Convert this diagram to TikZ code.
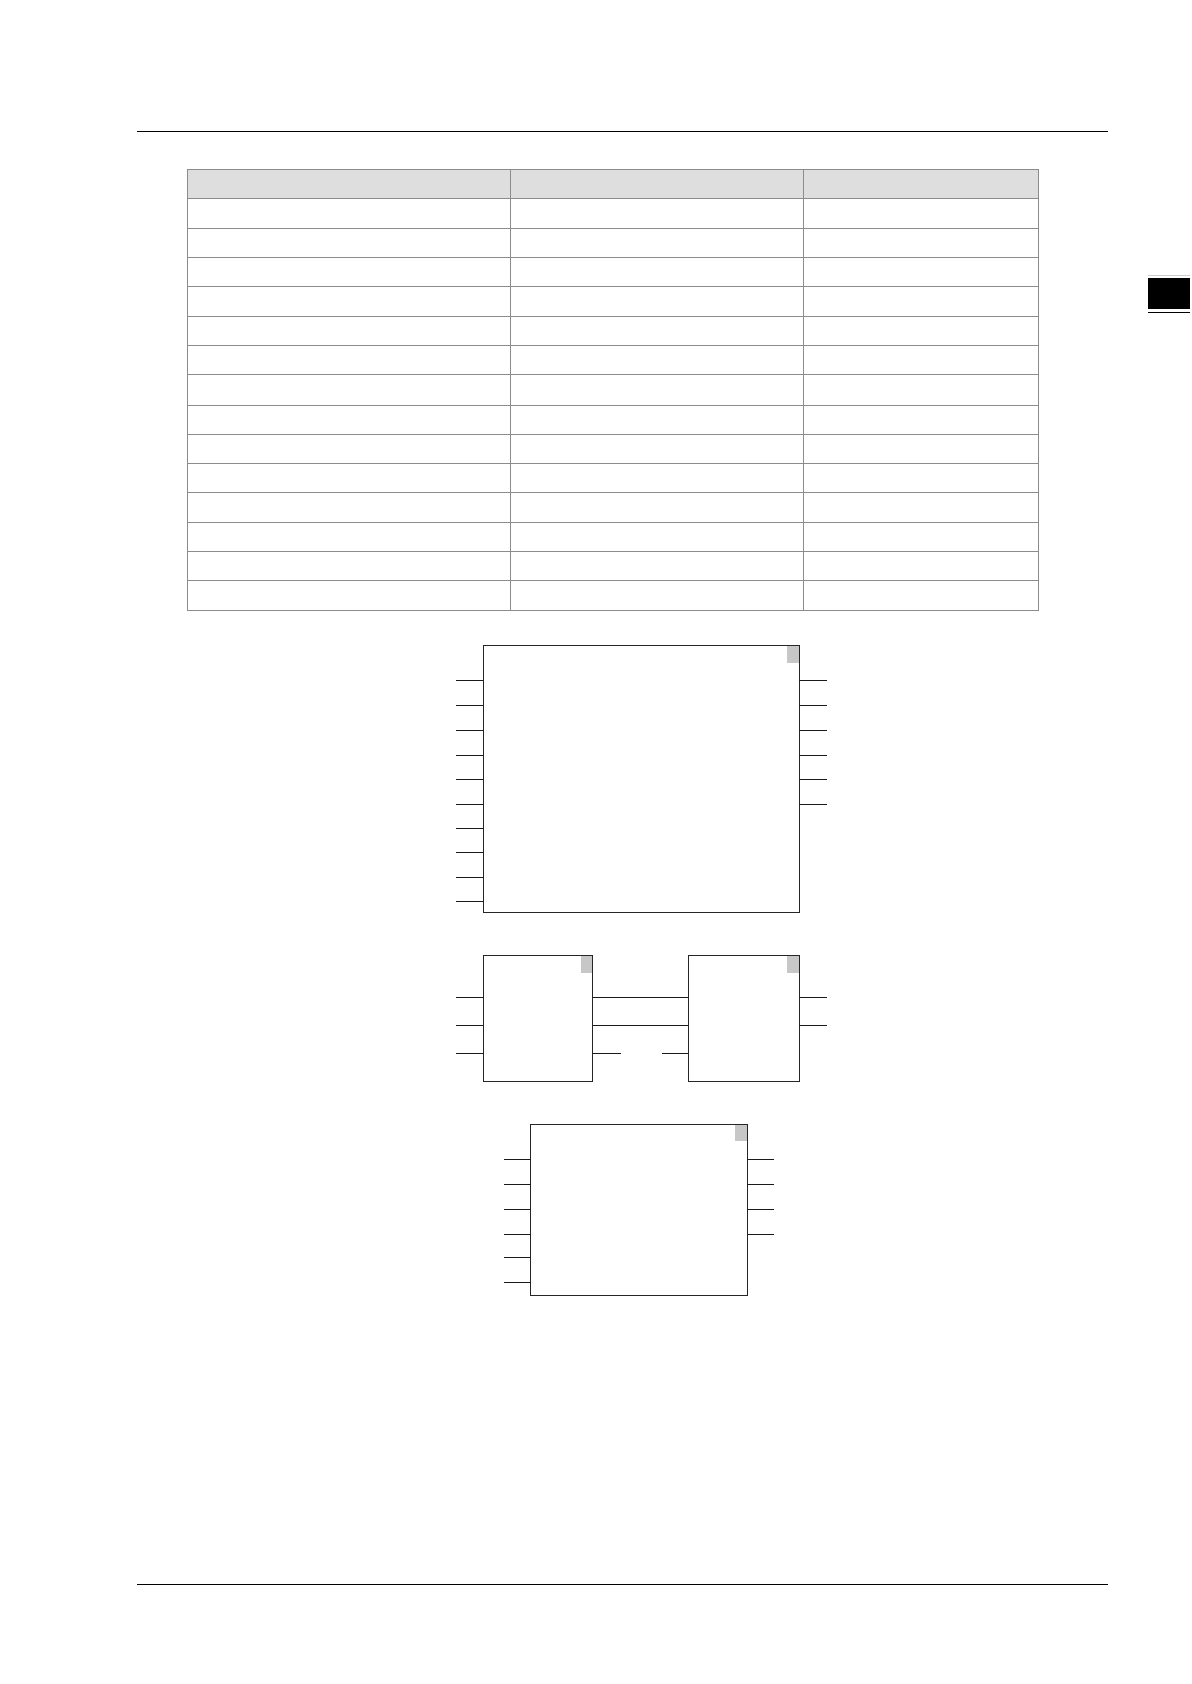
\documentclass[tikz,border=0pt]{standalone}
\begin{document}
\begin{tikzpicture}[x=0.05cm,y=-0.05cm, line width=1.1pt,
  blk/.style={draw=black!85, fill=white, inner sep=0pt, outer sep=0pt, anchor=north west},
  tabbox/.style={fill=black!22, inner sep=0pt, outer sep=0pt, anchor=north east, minimum width=0.52cm, minimum height=0.78cm},
  pin/.style={draw=black!90, line width=1.1pt},
  grid/.style={draw=black!45, line width=0.9pt}]
\useasboundingbox (0,0) rectangle (1109,1568);
\fill[white] (0,0) rectangle (1109,1568);
% page rules
\draw[line width=1.3pt] (128,122) -- (1032,122);
\draw[line width=1.3pt] (128,1475) -- (1032,1475);
% side tab
\draw[black!20, line width=0.8pt] (1069,256) -- (1108,256);
\fill[black] (1069,259) rectangle (1108,288);
\draw[line width=1pt] (1069,291) -- (1108,291);
% table
\fill[black!13] (174,158) rectangle (967,185);
\foreach \y in {158,185,213,240,267,295,322,349,377,404,431,458,486,513,540,568}
  \draw[grid] (174,\y) -- (967,\y);
\foreach \x in {174,475,748,967}
  \draw[grid] (\x,158) -- (\x,568);
% big block
\node[blk, minimum width=14.7cm, minimum height=12.45cm] (big) at (450,601) {};
\node[tabbox] at ([xshift=-0.55pt,yshift=-0.55pt]big.north east) {};
\foreach \y in {634,657,680,703,726,749,771,794,817,839}{
  \path (0,\y) coordinate (t);
  \draw[pin] (big.west |- t) -- ++(-25,0);}
\foreach \y in {634,657,680,703,726,749}{
  \path (0,\y) coordinate (t);
  \draw[pin] (big.east |- t) -- ++(26,0);}
% middle blocks
\node[blk, minimum width=5.1cm, minimum height=5.85cm] (A) at (450,890) {};
\node[tabbox] at ([xshift=-0.55pt,yshift=-0.55pt]A.north east) {};
\node[blk, minimum width=5.15cm, minimum height=5.85cm] (B) at (641,890) {};
\node[tabbox] at ([xshift=-0.55pt,yshift=-0.55pt]B.north east) {};
\foreach \y in {929,955,981}{
  \path (0,\y) coordinate (t);
  \draw[pin] (A.west |- t) -- ++(-25,0);}
\foreach \y in {929,955}{
  \path (0,\y) coordinate (t);
  \draw[pin] (A.east |- t) -- (B.west |- t);
  \draw[pin] (B.east |- t) -- ++(26,0);}
\path (0,981) coordinate (t);
\draw[pin] (A.east |- t) -- ++(26,0);
\draw[pin] (B.west |- t) -- ++(-25,0);
% bottom block
\node[blk, minimum width=10.1cm, minimum height=7.95cm] (C) at (494,1047) {};
\node[tabbox, minimum width=0.58cm, minimum height=0.75cm] at ([xshift=-0.55pt,yshift=-0.55pt]C.north east) {};
\foreach \y in {1080,1103,1126,1149,1171}{
  \path (0,\y) coordinate (t);
  \draw[pin] (C.west |- t) -- ++(-25,0);}
\path (0,1194) coordinate (t);
\draw[pin, line width=1.8pt] (C.west |- t) -- ++(-25,0);
\foreach \y in {1080,1103,1126,1149}{
  \path (0,\y) coordinate (t);
  \draw[pin] (C.east |- t) -- ++(25,0);}
\end{tikzpicture}
\end{document}
